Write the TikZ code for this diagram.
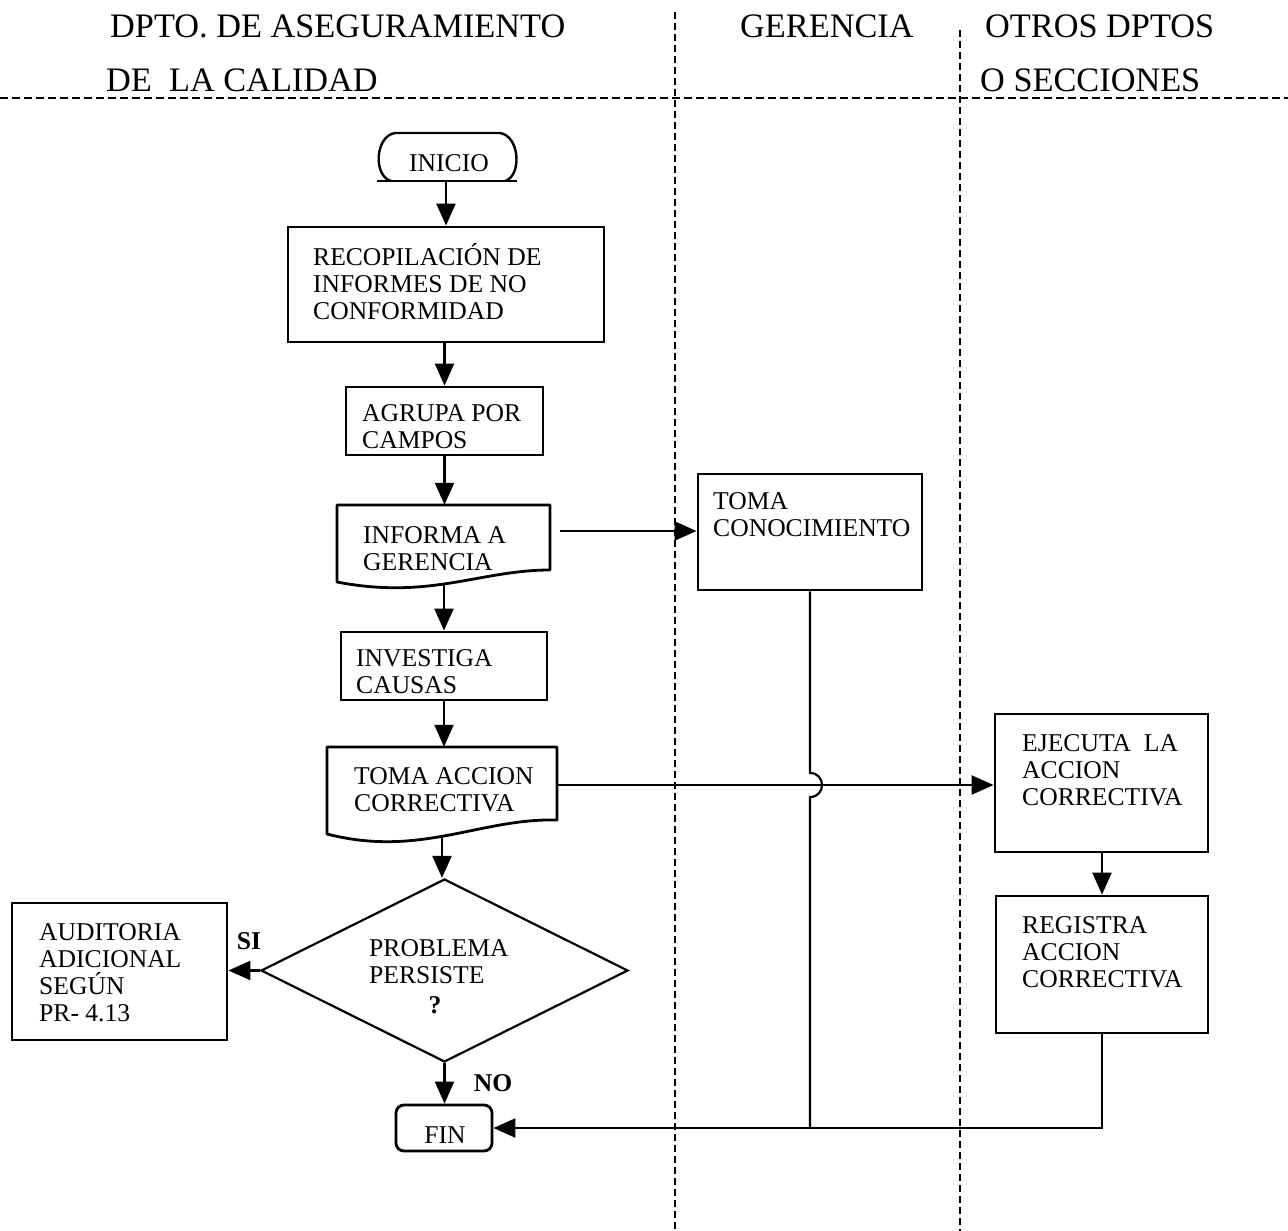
\documentclass[tikz,border=0pt]{standalone}
\usepackage{fontspec}
\setmainfont{Liberation Serif}
\usetikzlibrary{arrows.meta,shapes.geometric,calc}
% strut that fixes the height of the first line of a text block
\newcommand\fstrut{\rule{0pt}{24pt}}
\begin{document}
\begin{tikzpicture}[x=1pt,y=-1pt,
  hdr/.style={font=\fontsize{34.3}{36}\selectfont, inner sep=0pt, anchor=west},
  txt/.style={font=\fontsize{25.6}{27}\selectfont, inner sep=0pt, anchor=north west, align=left},
  word/.style={font=\fontsize{25.6}{27}\selectfont, inner sep=0pt},
  lbl/.style={font=\fontsize{25.6}{27}\selectfont\bfseries, inner sep=0pt},
  box/.style={draw, line width=2.8pt, rectangle, inner sep=0pt},
  frame/.style={rectangle, inner sep=0pt},
  outline/.style={line width=2.8pt, line join=round},
  lane/.style={line width=1.7pt, dash pattern=on 7pt off 4pt},
  arr/.style={line width=2.2pt, -{Triangle[length=22pt,width=19pt]}},
  wire/.style={line width=2.2pt}]

\useasboundingbox[fill=white] (0,0) rectangle (1288,1231);

% ---- swimlane headings ----
\node[hdr] (h1) at (110,26) {DPTO. DE ASEGURAMIENTO};
\node[hdr] (h2) at (106,80) {DE\ \ LA CALIDAD};
\node[hdr] (h3) at (740,26) {GERENCIA};
\node[hdr] (h4) at (985,26) {OTROS DPTOS};
\node[hdr] (h5) at (980,80) {O SECCIONES};

% ---- swimlane separators ----
\draw[lane, line width=2.3pt, dash pattern=on 8pt off 4pt] (0,98) -- (1288,98);
\draw[lane] (675,12) -- (675,1231);
\draw[lane] (960,30) -- (960,1231);

% ---- start terminator ----
\node[frame, minimum width=137pt, minimum height=48pt] (inicio) at (448.5,157) {};
\draw[outline, line width=2.4pt] (377,181) -- (517,181);
\draw[outline, line width=2.4pt] (391,181) .. controls (373,176) and (375,136) .. (395,133)
  -- (500,133) .. controls (520,136) and (522,176) .. (505,181);
\node[word] (inicioT) at (449,163) {INICIO};

% ---- quality assurance column ----
\node[box, minimum width=316pt, minimum height=115pt] (recop) at (446,284.5) {};
\node[txt] (recopT) at (313,241.5) {\fstrut RECOPILACIÓN DE\\INFORMES DE NO\\CONFORMIDAD};

\node[box, minimum width=197pt, minimum height=68pt] (agr) at (444.5,421) {};
\node[txt] (agrT) at (362,397.5) {\fstrut AGRUPA POR\\CAMPOS};

% document shape: informs management
\node[frame, minimum width=213pt, minimum height=83pt] (inf) at (443.5,546.5) {};
\draw[outline] (337,582) -- (337,505) -- (550,505) -- (550,570)
  .. controls (480,570) and (430,600) .. (337,582) -- cycle;
\node[txt] (infT) at (363,519) {\fstrut INFORMA A\\GERENCIA};
\coordinate (infw) at (444,583.5);
\coordinate (infout) at (560,531);

\node[box, minimum width=206pt, minimum height=68pt] (inv) at (444,666) {};
\node[txt] (invT) at (356,642.5) {\fstrut INVESTIGA\\CAUSAS};

% document shape: corrective action
\node[frame, minimum width=230pt, minimum height=95pt] (tacc) at (442,794.5) {};
\draw[outline] (327,834) -- (327,747) -- (557,747) -- (557,820)
  .. controls (480,818) and (420,858) .. (327,834) -- cycle;
\node[txt] (taccT) at (354,760.5) {\fstrut TOMA ACCION\\CORRECTIVA};
\coordinate (taccw) at (442,836);
\coordinate (taccout) at (557,785);

% decision
\node[diamond, draw, line width=2.2pt, minimum width=367pt, minimum height=183pt, inner sep=0pt] (dec) at (444.5,970.5) {};
\node[txt] (decT) at (369,932.5) {\fstrut PROBLEMA\\PERSISTE};
\node[lbl] (decQ) at (435,1005) {?};

\node[box, minimum width=215pt, minimum height=137pt] (aud) at (119.5,971.5) {};
\node[txt] (audT) at (39,916.5) {\fstrut AUDITORIA\\ADICIONAL\\SEGÚN\\PR- 4.13};

% end terminator
\node[box, rounded corners=8pt, minimum width=96pt, minimum height=46pt] (fin) at (444,1128) {};
\node[word] (finT) at (445,1135) {FIN};

\node[lbl] (si) at (249,941) {SI};
\node[lbl] (no) at (493,1083) {NO};

% ---- management column ----
\node[box, minimum width=224pt, minimum height=116pt] (toma) at (810,532) {};
\node[txt] (tomaT) at (713,485.5) {\fstrut TOMA\\CONOCIMIENTO};

% ---- other departments column ----
\node[box, minimum width=213pt, minimum height=138pt] (ejec) at (1101.5,783) {};
\node[txt] (ejecT) at (1022,727.5) {\fstrut EJECUTA\ \ LA\\ACCION\\CORRECTIVA};

\node[box, minimum width=212pt, minimum height=137pt] (reg) at (1102,964.5) {};
\node[txt] (regT) at (1022,909.5) {\fstrut REGISTRA\\ACCION\\CORRECTIVA};

% ---- connectors ----
\draw[arr] (recop.north |- inicio.south) -- (recop.north);
\draw[arr] (agr.north |- recop.south) -- (agr.north);
\draw[arr] (agr.south) -- (agr.south |- inf.north);
\draw[arr] (infw) -- (infw |- inv.north);
\draw[arr] (inv.south) -- (inv.south |- tacc.north);
\draw[arr] (taccw) -- (taccw |- dec.north);
\draw[arr] (dec.west) -- (dec.west -| aud.east);
\draw[arr] (dec.south) -- (dec.south |- fin.north);

\draw[arr] (infout) -- (infout -| toma.west);
\draw[arr] (taccout) -- (taccout -| ejec.west);
\draw[arr] (reg.north |- ejec.south) -- (reg.north);
\draw[arr] (reg.south) |- (fin.east);

% management line hops over the corrective-action line
\coordinate (hopa) at (810,773);
\coordinate (hopb) at (810,797);
\draw[wire] (toma.south) -- (hopa) .. controls (826,773) and (826,797) .. (hopb)
  -- (toma.south |- fin.east);
\end{tikzpicture}
\end{document}
